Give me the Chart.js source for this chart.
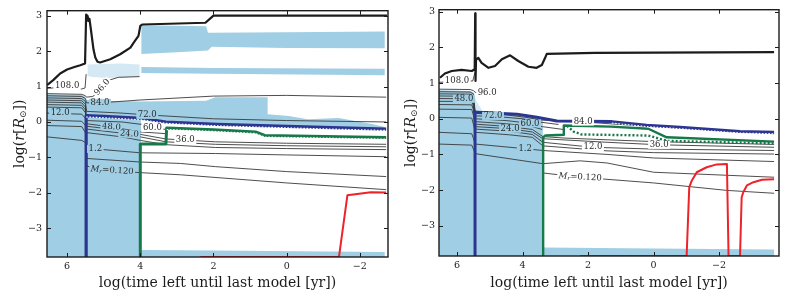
<!DOCTYPE html>
<html>
<head>
<meta charset="utf-8">
<script src="https://cdn.jsdelivr.net/npm/chart.js@4.4.0/dist/chart.umd.min.js"></script>
<style>
  body { margin: 0; background: #fff; }
  #wrap { position: relative; width: 789px; height: 298px; }
  canvas { position: absolute; top: 0; }
</style>
</head>
<body>
<div id="wrap">
  <canvas id="chart-left" width="395" height="298" style="left:0"></canvas>
  <canvas id="chart-right" width="394" height="298" style="left:395px"></canvas>
</div>
<script>
// Axes (x = log time left [yr], y = log r [Rsun])
const xTicks = [6, 4, 2, 0, -2];
const yTicks = [-3, -2, -1, 0, 1, 2, 3];
const xTitle = 'log(time left until last model [yr])';
const yTitleParts = [['log(', ''], ['r', 'italic'], ['[', ''], ['R', 'italic'], ['\u2299', 'sub'], ['])', '']];

// ---------- left panel ----------
const surfaceL = [[6.55,1.04],[6.38,1.18],[6.19,1.37],[6.0,1.48],[5.8,1.55],[5.64,1.6],[5.51,1.65],[5.48,3.03],[5.44,2.99],[5.42,2.85],[5.39,2.91],[5.35,2.61],[5.28,2.05],[5.23,1.82],[5.17,1.7],[5.1,1.68],[4.82,1.77],[4.55,1.91],[4.27,2.1],[4.18,2.24],[4.05,2.43],[4.0,2.71],[3.95,2.75],[2.22,2.8],[2.0,3.0],[-2.75,3.0]];
const navyL = [[5.48,-3.81],[5.48,0.18],[5.0,0.16],[3.95,0.1],[3.3,0.0],[1.9,-0.07],[-0.5,-0.14],[-2.72,-0.2]];
const greenL = [[4.0,-3.81],[4.0,-0.62],[3.3,-0.62],[3.28,-0.17],[2.0,-0.22],[0.85,-0.28],[0.6,-0.38],[-2.72,-0.44]];
const redL = [[2.36,-3.81],[-1.43,-3.81],[-1.66,-2.07],[-2.3,-1.98],[-2.72,-1.99]];

const blueMainL = [[6.55,-3.81],[6.55,0.78],[5.6,0.76],[5.5,0.71],[5.47,0.62],[5.1,0.6],[4.0,0.58],[2.2,0.6],[1.95,0.7],[0.52,0.7],[0.52,0.22],[-0.05,0.17],[-0.58,0.08],[-1.42,0.11],[-2.33,-0.06],[-2.68,-0.14],[-2.68,-0.2],[-0.5,-0.14],[1.9,-0.07],[3.3,0.0],[3.98,0.1],[3.98,-3.81]];
const bandAL = [[3.97,2.73],[2.2,2.7],[2.15,2.52],[0,2.53],[-2.68,2.55],[-2.68,2.08],[0,2.09],[2.05,2.12],[2.15,2.02],[3.0,1.97],[3.97,1.92]];
const bandBL = [[3.97,1.55],[2.0,1.52],[-2.68,1.5],[-2.68,1.32],[2.0,1.36],[3.97,1.38]];
const bandFaintL = [[5.44,1.62],[4.5,1.65],[4.02,1.62],[4.02,1.28],[4.85,1.24],[5.3,1.27],[5.44,1.3]];
const bottomL = [[3.98,-3.81],[3.98,-3.61],[2.0,-3.63],[-2.68,-3.67],[-2.68,-3.81]];

const contoursL = [
  [[6.55,0.95],[6.0,0.98],[5.6,0.93],[5.51,0.96],[5.48,1.35]],
  [[6.55,0.8],[5.6,0.78],[5.5,0.74],[5.47,0.7],[5.3,0.72],[5.15,0.84],[5.0,1.0],[4.85,1.18],[4.6,1.26],[4.02,1.28]],
  [[6.55,0.74],[5.6,0.72],[5.5,0.66],[5.47,0.54],[5.1,0.54],[4.0,0.62],[2.0,0.73],[0,0.75],[-2.72,0.7]],
  [[6.55,0.68],[5.6,0.66],[5.5,0.58],[5.47,0.3],[4.5,0.25],[3.81,0.2],[2.0,0.09],[0,0.04],[-2.72,0.0]],
  [[6.55,0.62],[5.6,0.6],[5.5,0.5],[5.47,0.04],[4.5,0.0],[3.95,-0.07],[3.67,-0.17],[3.3,-0.21]],
  [[6.55,0.56],[5.6,0.54],[5.5,0.42],[5.47,-0.05],[4.79,-0.14],[4.0,-0.28],[3.3,-0.33]],
  [[6.55,0.49],[5.6,0.47],[5.5,0.34],[5.47,-0.12],[4.5,-0.24],[4.0,-0.35],[3.3,-0.48],[2.77,-0.51],[1.95,-0.56],[0,-0.6],[-2.72,-0.63]],
  [[6.55,0.42],[5.6,0.4],[5.5,0.26],[5.47,-0.2],[4.3,-0.34],[4.0,-0.42],[3.3,-0.56],[1.95,-0.63],[0,-0.67],[-2.72,-0.7]],
  [[6.55,0.25],[5.6,0.22],[5.5,0.1],[5.47,-0.3],[4.5,-0.42],[4.0,-0.52],[3.3,-0.64],[1.95,-0.72],[0,-0.75],[-2.72,-0.78]],
  [[6.55,0.05],[5.6,0.02],[5.5,-0.1],[5.47,-0.68],[5.23,-0.76],[4.0,-0.87],[1.95,-0.89],[0,-0.93],[-2.72,-0.98]],
  [[6.55,-0.1],[5.6,-0.13],[5.5,-0.3],[5.46,-1.03],[4.0,-1.13],[2.9,-1.17],[1.95,-1.26],[0,-1.4],[-2.72,-1.54]],
  [[6.55,-0.42],[5.6,-0.52],[5.5,-0.58],[5.46,-1.25],[4.77,-1.37],[4.0,-1.43],[2.9,-1.49],[0,-1.72],[-2.72,-1.91]]
];
const labelTextL = ['108.0', '96.0', '84.0', '12.0', '72.0', '48.0', '60.0', '24.0', '36.0', '1.2', 'M_r=0.120'];
const labelXL = [6.0, 5.04, 5.1, 6.19, 3.81, 4.79, 3.67, 4.3, 2.77, 5.23, 4.77];
const labelYL = [1.02, 0.98, 0.54, 0.25, 0.2, -0.14, -0.17, -0.34, -0.51, -0.76, -1.37];
const labelRotL = [0, -48, 0, 0, 0, 4, 0, 4, 0, 0, 4];

// ---------- right panel ----------
const surfaceR = [[6.52,1.15],[6.37,1.27],[6.16,1.34],[5.86,1.37],[5.55,1.34],[5.46,1.39],[5.445,2.96],[5.435,1.06],[5.42,1.65],[5.35,1.71],[5.25,1.57],[5.04,1.43],[4.84,1.48],[4.63,1.67],[4.38,1.78],[4.13,1.62],[3.82,1.46],[3.57,1.43],[3.41,1.51],[3.31,1.71],[3.26,1.82],[1.79,1.85],[-3.68,1.87]];
const navyR = [[5.45,-3.85],[5.45,0.2],[5.39,0.18],[4.17,0.13],[3.56,0.04],[2.95,-0.06],[1.27,-0.08],[0.21,-0.18],[-0.81,-0.24],[-2.64,-0.36],[-3.68,-0.38]];
const greenR = [[3.37,-3.85],[3.37,-0.52],[3.3,-0.47],[2.74,-0.45],[2.74,-0.19],[1.3,-0.22],[0.16,-0.28],[-0.4,-0.52],[-3.68,-0.64]];
const greenDotR = [[2.64,-0.2],[2.44,-0.36],[2.2,-0.44],[0.16,-0.47],[-0.41,-0.62],[-3.68,-0.69]];
const redR = [[2.24,-3.85],[-1.01,-3.85],[-1.09,-1.92],[-1.17,-1.73],[-1.32,-1.5],[-1.62,-1.36],[-1.93,-1.28],[-2.24,-1.27],[-2.29,-3.85],[-2.64,-3.85],[-2.69,-2.2],[-2.74,-2.06],[-2.85,-1.87],[-3.05,-1.78],[-3.31,-1.71],[-3.68,-1.7]];

const blueMainR = [[6.55,-3.85],[6.55,0.8],[5.6,0.78],[5.48,0.72],[5.46,0.2],[5.39,0.18],[4.17,0.13],[3.56,0.04],[3.38,0.01],[3.38,-3.85]];
const wedgeR = [[5.45,0.58],[5.38,0.45],[5.2,0.2],[5.45,0.2]];
const bottomR = [[3.37,-3.85],[3.37,-3.61],[0,-3.64],[-3.68,-3.67],[-3.68,-3.85]];

const contoursR = [
  [[6.55,1.02],[6.0,1.06],[5.52,1.06],[5.45,1.3]],
  [[6.55,0.83],[5.6,0.82],[5.5,0.79],[5.44,0.74],[5.3,0.73],[5.0,0.73]],
  [[6.55,0.76],[5.6,0.75],[5.5,0.7],[5.44,0.15],[4.5,0.11],[3.9,0.04],[3.38,-0.04],[2.15,-0.09],[0.2,-0.21],[-3.68,-0.42]],
  [[6.55,0.7],[5.6,0.69],[5.5,0.62],[5.44,0.08],[4.9,0.07],[4.0,0.0],[3.5,-0.09],[2.9,-0.16]],
  [[6.55,0.64],[5.6,0.63],[5.5,0.55],[5.44,0.0],[4.5,-0.05],[3.77,-0.13],[3.4,-0.22],[2.76,-0.3]],
  [[6.55,0.57],[5.79,0.56],[5.55,0.55],[5.5,0.45],[5.44,-0.08],[4.5,-0.14],[3.7,-0.22],[3.4,-0.3]],
  [[6.55,0.49],[5.55,0.48],[5.5,0.36],[5.44,-0.15],[4.4,-0.22],[3.7,-0.3],[3.38,-0.5],[2.74,-0.54],[1.42,-0.59],[0,-0.64],[-3.68,-0.72]],
  [[6.55,0.4],[5.55,0.39],[5.5,0.26],[5.44,-0.22],[4.38,-0.28],[3.7,-0.37],[3.38,-0.56],[1.42,-0.66],[-0.17,-0.73],[-3.68,-0.8]],
  [[6.55,0.27],[5.55,0.26],[5.5,0.1],[5.44,-0.29],[4.4,-0.35],[3.7,-0.44],[3.38,-0.66],[1.85,-0.8],[0,-0.85],[-3.68,-0.89]],
  [[6.55,0.04],[5.55,0.02],[5.5,-0.15],[5.44,-0.38],[4.4,-0.45],[3.7,-0.52],[3.38,-0.76],[1.42,-0.9],[0,-0.95],[-3.68,-0.99]],
  [[6.55,-0.38],[5.55,-0.42],[5.5,-0.55],[5.44,-0.71],[3.92,-0.84],[3.38,-0.89],[1.42,-1.0],[0,-1.1],[-3.68,-1.2]],
  [[6.55,-0.71],[5.55,-0.74],[5.5,-0.85],[5.44,-0.98],[3.38,-1.26],[2.24,-1.18],[1.42,-1.24],[0,-1.5],[-3.68,-1.64]],
  [[3.38,-1.52],[2.24,-1.64],[0,-1.8],[-2.24,-2.01],[-3.68,-2.09]]
];
const labelTextR = ['108.0', '96.0', '48.0', '72.0', '60.0', '24.0', '1.2', '84.0', '12.0', '36.0', 'M_r=0.120'];
const labelXR = [6.0, 5.08, 5.79, 4.9, 3.77, 4.38, 3.92, 2.15, 1.85, -0.17, 2.24];
const labelYR = [1.06, 0.73, 0.56, 0.08, -0.13, -0.28, -0.84, -0.08, -0.8, -0.73, -1.64];
const labelRotR = [0, 0, 0, 0, 0, 0, 0, 0, 0, 0, 3];

// ---------- styles ----------
const BLUE = 'rgb(160, 206, 228)';
const BLUE_FAINT = 'rgba(160, 206, 228, 0.45)';
const BLUE_FAINT_SOLID = 'rgb(212, 233, 243)';
const NAVY = '#2c3590';
const GREEN = '#17784a';
const RED = '#ee2229';
const INK = '#1c1c1c';
const SERIF = '"DejaVu Serif", "Liberation Serif", serif';

const toXY = pts => pts.map(([x, y]) => ({ x, y }));
const shift = (pts, dy) => pts.map(([x, y]) => [x, y + dy]);
const fmt = v => (v < 0 ? '\u2212' + (-v) : String(v));

function area(points, color) {
  return { data: toXY(points), fill: 'shape', backgroundColor: color, borderColor: 'rgba(0,0,0,0)',
           borderWidth: 0, pointRadius: 0, order: 6 };
}

function line(points, color, width, order, dash) {
  return { data: toXY(points), fill: false, borderColor: color, borderWidth: width, borderDash: dash || [],
           pointRadius: 0, order: order, borderJoinStyle: 'round', tension: 0 };
}

function inside(poly, x, y) {
  let hit = false;
  for (let i = 0, j = poly.length - 1; i < poly.length; j = i++) {
    const [xi, yi] = poly[i], [xj, yj] = poly[j];
    if ((yi > y) !== (yj > y) && x < (xj - xi) * (y - yi) / (yj - yi) + xi) hit = !hit;
  }
  return hit;
}

// label background = colour of the region under it, so the contour looks cut
function labelBg(fills, x, y) {
  let bg = '#fff';
  fills.forEach(([poly, color]) => {
    if (inside(poly, x, y)) bg = color === BLUE_FAINT ? BLUE_FAINT_SOLID : color;
  });
  return bg;
}

function drawLabel(ctx, text, px, py, rot, bg) {
  const parts = text.indexOf('_') >= 0
    ? [[text.split('_')[0], 'italic 8.5px ' + SERIF, 0], [text.split('_')[1][0], 'italic 6px ' + SERIF, 2], [text.split('_')[1].slice(1), '8.5px ' + SERIF, 0]]
    : [[text, '8.5px ' + SERIF, 0]];
  let w = 0;
  parts.forEach(p => { ctx.font = p[1]; w += ctx.measureText(p[0]).width; });
  ctx.save();
  ctx.translate(px, py);
  ctx.rotate(rot * Math.PI / 180);
  ctx.fillStyle = bg;
  ctx.fillRect(-w / 2 - 1.5, -4, w + 3, 8);
  ctx.fillStyle = '#2a2a2a';
  ctx.textBaseline = 'middle';
  ctx.textAlign = 'left';
  let cx = -w / 2;
  parts.forEach(p => {
    ctx.font = p[1];
    ctx.fillText(p[0], cx, p[2]);
    cx += ctx.measureText(p[0]).width;
  });
  ctx.restore();
}

function panelPlugin(p) {
  return {
    id: 'panelDecor',
    beforeDraw(chart) {
      const ctx = chart.ctx;
      ctx.save();
      ctx.fillStyle = '#fff';
      ctx.fillRect(0, 0, chart.width, chart.height);
      ctx.restore();
    },
    afterDatasetsDraw(chart) {
      const { ctx, scales: { x, y } } = chart;
      p.labelText.forEach((t, i) => {
        const bg = labelBg(p.fills, p.labelX[i], p.labelY[i]);
        drawLabel(ctx, t, x.getPixelForValue(p.labelX[i]), y.getPixelForValue(p.labelY[i]), p.labelRot[i], bg);
      });
    },
    afterDraw(chart) {
      const { ctx, chartArea: a, scales: { x, y } } = chart;
      ctx.save();
      // inward ticks on all four sides
      ctx.strokeStyle = INK;
      ctx.lineWidth = 1;
      ctx.beginPath();
      xTicks.forEach(v => {
        const px = Math.round(x.getPixelForValue(v)) + 0.5;
        ctx.moveTo(px, a.bottom); ctx.lineTo(px, a.bottom - 4);
        ctx.moveTo(px, a.top); ctx.lineTo(px, a.top + 4);
      });
      yTicks.forEach(v => {
        const py = Math.round(y.getPixelForValue(v)) + 0.5;
        ctx.moveTo(a.left, py); ctx.lineTo(a.left + 4, py);
        ctx.moveTo(a.right, py); ctx.lineTo(a.right - 4, py);
      });
      ctx.stroke();
      // frame
      ctx.lineWidth = 1.4;
      ctx.strokeRect(a.left, a.top, a.right - a.left, a.bottom - a.top);
      // y title with italic r, R and sun subscript
      const fonts = { '': '14px ' + SERIF, italic: 'italic 14px ' + SERIF, sub: '9px ' + SERIF };
      let w = 0;
      yTitleParts.forEach(([t, s]) => { ctx.font = fonts[s]; w += ctx.measureText(t).width; });
      ctx.translate(p.yTitleX, (a.top + a.bottom) / 2);
      ctx.rotate(-Math.PI / 2);
      ctx.fillStyle = INK;
      ctx.textBaseline = 'middle';
      let cx = -w / 2;
      yTitleParts.forEach(([t, s]) => {
        ctx.font = fonts[s];
        ctx.fillText(t, cx, s === 'sub' ? 4 : 0);
        cx += ctx.measureText(t).width;
      });
      ctx.restore();
    }
  };
}

function buildPanel(canvasId, p) {
  const datasets = [];
  p.fills.forEach(f => datasets.push(area(f[0], f[1])));
  p.contours.forEach(c => datasets.push(line(c, '#3a3a3a', 0.9, 5)));
  p.lines.forEach(l => datasets.push(line(l[0], l[1], l[2], l[3], l[4])));

  return new Chart(document.getElementById(canvasId), {
    type: 'line',
    data: { datasets },
    options: {
      responsive: false,
      animation: false,
      events: [],
      layout: { padding: { top: 9, right: p.padRight, left: 0, bottom: 0 } },
      plugins: { legend: { display: false }, tooltip: { enabled: false } },
      scales: {
        x: {
          type: 'linear', reverse: true, min: p.xMin, max: p.xMax,
          grid: { display: false, drawTicks: false }, border: { display: false },
          ticks: { font: { family: SERIF, size: 9.5 }, color: INK, padding: 4, maxRotation: 0, autoSkip: false, callback: fmt },
          afterBuildTicks: s => { s.ticks = xTicks.map(value => ({ value })); },
          afterFit: s => { s.height = p.xAxisH; },
          title: { display: true, text: xTitle, color: INK, font: { family: SERIF, size: 14 }, padding: { top: 0, bottom: 6 } }
        },
        y: {
          type: 'linear', min: p.yMin, max: p.yMax,
          grid: { display: false, drawTicks: false }, border: { display: false },
          ticks: { font: { family: SERIF, size: 9.5 }, color: INK, padding: p.yPad, callback: fmt },
          afterBuildTicks: s => { s.ticks = yTicks.map(value => ({ value })); },
          afterFit: s => { s.width = p.yAxisW; }
        }
      }
    },
    plugins: [panelPlugin(p)]
  });
}

buildPanel('chart-left', {
  xMin: -2.77, xMax: 6.55, yMin: -3.81, yMax: 3.14,
  padRight: 7, yAxisW: 47, xAxisH: 41, yPad: 5, yTitleX: 20,
  fills: [[blueMainL, BLUE], [bandAL, BLUE], [bandBL, BLUE], [bandFaintL, BLUE_FAINT], [bottomL, BLUE]],
  contours: contoursL,
  lines: [
    [redL, RED, 2, 4],
    [greenL, GREEN, 3, 3],
    [shift(greenL.slice(3), -0.045), '#fff', 1.2, 2, [1.6, 1.6]],
    [navyL, NAVY, 3.2, 3],
    [shift(navyL.slice(1), -0.04), '#fff', 1.2, 2, [1.6, 1.6]],
    [surfaceL, INK, 2.2, 1]
  ],
  labelText: labelTextL, labelX: labelXL, labelY: labelYL, labelRot: labelRotL
});

buildPanel('chart-right', {
  xMin: -3.83, xMax: 6.55, yMin: -3.85, yMax: 3.06,
  padRight: 10, yAxisW: 44, xAxisH: 42, yPad: 4, yTitleX: 16,
  fills: [[blueMainR, BLUE], [wedgeR, BLUE_FAINT], [bottomR, BLUE]],
  contours: contoursR,
  lines: [
    [redR, RED, 2, 4],
    [greenR, GREEN, 2.4, 3],
    [greenDotR, GREEN, 2.4, 3, [2, 2]],
    [navyR, NAVY, 3, 3],
    [shift(navyR.filter(pt => pt[0] < 1.5), -0.04), '#fff', 1.1, 2, [1.6, 1.6]],
    [surfaceR, INK, 2.2, 1]
  ],
  labelText: labelTextR, labelX: labelXR, labelY: labelYR, labelRot: labelRotR
});
</script>
</body>
</html>
